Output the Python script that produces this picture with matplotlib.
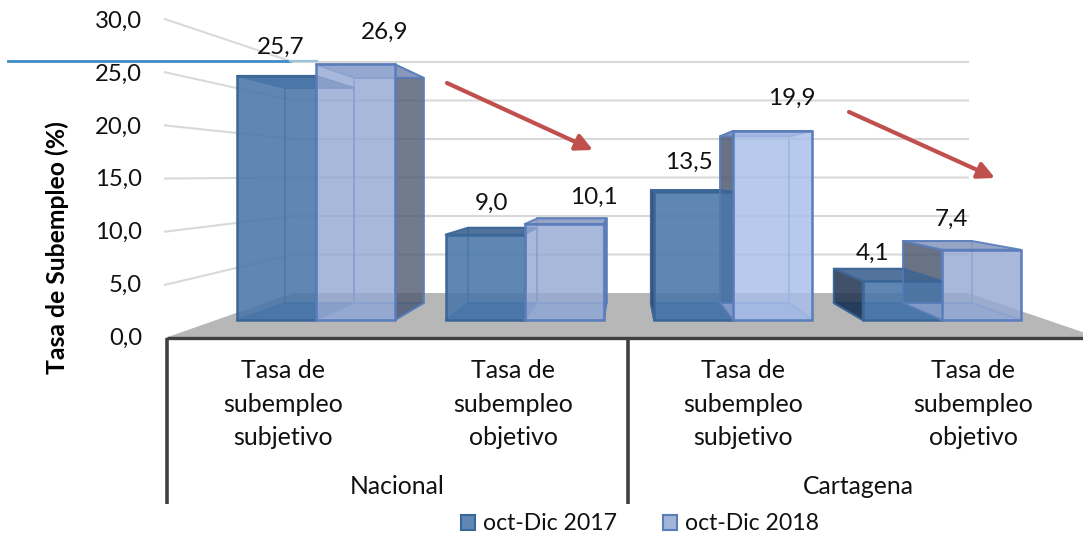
import matplotlib
matplotlib.use('Agg')
import matplotlib.pyplot as plt
from matplotlib.patches import Polygon, Patch
from matplotlib.transforms import Affine2D

plt.rcParams['font.family'] = ['Lato', 'DejaVu Sans']

# data
categories = ['Tasa de\nsubempleo\nsubjetivo', 'Tasa de\nsubempleo\nobjetivo',
              'Tasa de\nsubempleo\nsubjetivo', 'Tasa de\nsubempleo\nobjetivo']
groups = ['Nacional', 'Cartagena']
series_names = ['oct-Dic 2017', 'oct-Dic 2018']
values_2017 = [25.7, 9.0, 13.5, 4.1]
values_2018 = [26.9, 10.1, 19.9, 7.4]
ticks = [0, 5, 10, 15, 20, 25, 30]
y_title = 'Tasa de Subempleo (%)'

# layout, front plane of the bars: 79 px per bar width, 9.5 px per unit
W, H = 1083, 534
X0, Y0, SX, SY = 237, 320, 79.0, 9.5
GROUP_STEP = 2.64
VANISH = 4.97


def back(x, v):
    # same point on the back plane of the bars
    return 0.877 * x + 0.608, 0.881 * v + 1.79


def wall(v):
    return 2.842 + 0.8105 * v


def wall_front(v):
    return -1.895 + 1.119 * v


def px_x(p):
    return (p - X0) / SX


def px_y(p):
    return (Y0 - p) / SY


fig = plt.figure(figsize=(W / 100, H / 100), dpi=100)
ax = fig.add_axes([0, 0, 1, 1])
ax.set_xlim(px_x(0), px_x(W))
ax.set_ylim(px_y(H), px_y(0))
ax.axis('off')
px = Affine2D().scale(1, -1).translate(0, H)

# walls
for t in ticks[1:]:
    ax.plot([px_x(165), px_x(293), px_x(968)], [wall_front(t), wall(t), wall(t)],
            color='#d9d9d9', lw=1.5, zorder=1, solid_joinstyle='round')

# floor
ax.add_patch(Polygon([(px_x(165), wall_front(0)), (px_x(293), wall(0)), (px_x(968), wall(0)), (px_x(1100), wall_front(0))],
                     closed=True, fc='#b7b7b7', ec='none', zorder=1.5))

# bars
styles = [
    dict(front='#4a77aa', floor='#44709f', top='#3f6591', side='#1f3350', edge='#3b6698', alpha=0.88),
    dict(front='#95a9d3', floor='#8da2cd', top='#8b9bc0', side='#4f5a70', edge='#5a7dbb', alpha=0.82),
]
light_front = {(1, 2): '#a8bee8'}
for j, vals in enumerate([values_2017, values_2018]):
    st = styles[j]
    z = 3 + j
    xs = [i * GROUP_STEP + j for i in range(len(vals))]
    fronts = [light_front.get((j, i), st['front']) for i in range(len(vals))]
    for x, v in zip(xs, vals):
        bl = back(x, 0)
        br = back(x + 1, 0)
        tl = back(x, v)
        tr = back(x + 1, v)
        kw = dict(closed=True, lw=1.4, joinstyle='round')
        # floor of the box
        ax.add_patch(Polygon([(x, 0), (x + 1, 0), br, bl], fc=st['floor'], ec=st['edge'], alpha=st['alpha'], zorder=z, **kw))
        # back face, edges only
        ax.add_patch(Polygon([bl, br, tr, tl], fc='none', ec=st['edge'], alpha=0.7, zorder=z, **kw))
        # dark side, for 2018 it sits behind the 2017 bar next to it
        if x + 1 < VANISH:
            if j == 1:
                ax.add_patch(Polygon([(x + 1, 0), br, tr, (x + 1, v)], fc=st['side'], ec=st['edge'], alpha=0.8, zorder=z, **kw))
        else:
            side_z = z + 0.05 if j == 0 else 2.5
            ax.add_patch(Polygon([(x, 0), bl, tl, (x, v)], fc=st['side'], ec=st['edge'], alpha=0.85, zorder=side_z, **kw))
        # top
        ax.add_patch(Polygon([(x, v), (x + 1, v), tr, tl], fc=st['top'], ec=st['edge'], alpha=0.9, zorder=z + 0.1, **kw))
    ax.bar(xs, vals, width=1, align='edge', color=fronts, alpha=st['alpha'], zorder=z + 0.2)
    ax.bar(xs, vals, width=1, align='edge', color='none', edgecolor=st['edge'], lw=1.8, zorder=z + 0.3)

# axis frame
ax.plot([px_x(167), px_x(W)], [px_y(338), px_y(338)], color='#404040', lw=2.4, zorder=5, solid_capstyle='butt')
for p in [167, 628]:
    ax.plot([px_x(p), px_x(p)], [px_y(338), px_y(504)], color='#404040', lw=2.6, zorder=5, solid_capstyle='butt')

# blue line across the top left
ax.plot([px_x(8), px_x(290)], [px_y(61.5), px_y(61.5)], color='#3f8cc4', lw=2.0, zorder=6)
ax.plot([px_x(290), px_x(317)], [px_y(61.5), px_y(61.5)], color='#9cc3de', lw=1.6, zorder=6)

# red arrows
for start, end in [((447, 83), (593, 150)), ((849, 112), (995, 178))]:
    ax.annotate('', xy=(px_x(end[0]), px_y(end[1])), xytext=(px_x(start[0]), px_y(start[1])),
                arrowprops=dict(arrowstyle='-|>,head_length=1.0,head_width=0.5', color='#c0504d', lw=3,
                                shrinkA=0, shrinkB=0), zorder=7)

# tick labels
for t in ticks:
    ax.text(142, 338 - 10.55 * t, ('%.1f' % t).replace('.', ','), transform=px, ha='right', va='center', fontsize=17.2, color='#111111')
ax.text(57, 248, y_title, transform=px, rotation=90, ha='center', va='center', fontsize=17.8, fontweight='bold', color='black')

# data labels
label_pos = [(281, 47), (492, 203), (689, 162), (873, 253),
             (385, 32), (594, 197), (792, 98), (952, 219)]
for (lx, ly), v in zip(label_pos, values_2017 + values_2018):
    ax.text(lx, ly, ('%.1f' % v).replace('.', ','), transform=px, ha='center', va='center', fontsize=17.5, color='#111111')

# category and group labels
for cx, c in zip([283, 513, 743, 973], categories):
    ax.text(cx, 404, c, transform=px, ha='center', va='center', fontsize=18, linespacing=1.55, color='#111111')
for cx, g in zip([397, 858], groups):
    ax.text(cx, 486, g, transform=px, ha='center', va='center', fontsize=17.8, color='#111111')

# legend
handles = [Patch(fc='#5f87b4', ec='#3b6698', lw=1.5, label=series_names[0]),
           Patch(fc='#a3b5d8', ec='#5a7dbb', lw=1.5, label=series_names[1])]
ax.legend(handles=handles, loc='center', bbox_to_anchor=(640, 524), bbox_transform=px, ncol=2, frameon=False,
          fontsize=16.6, handlelength=0.62, handleheight=0.62, handletextpad=0.35, columnspacing=2.0,
          borderpad=0, borderaxespad=0, labelcolor='#111111')

fig.savefig('out.png', dpi=100)
